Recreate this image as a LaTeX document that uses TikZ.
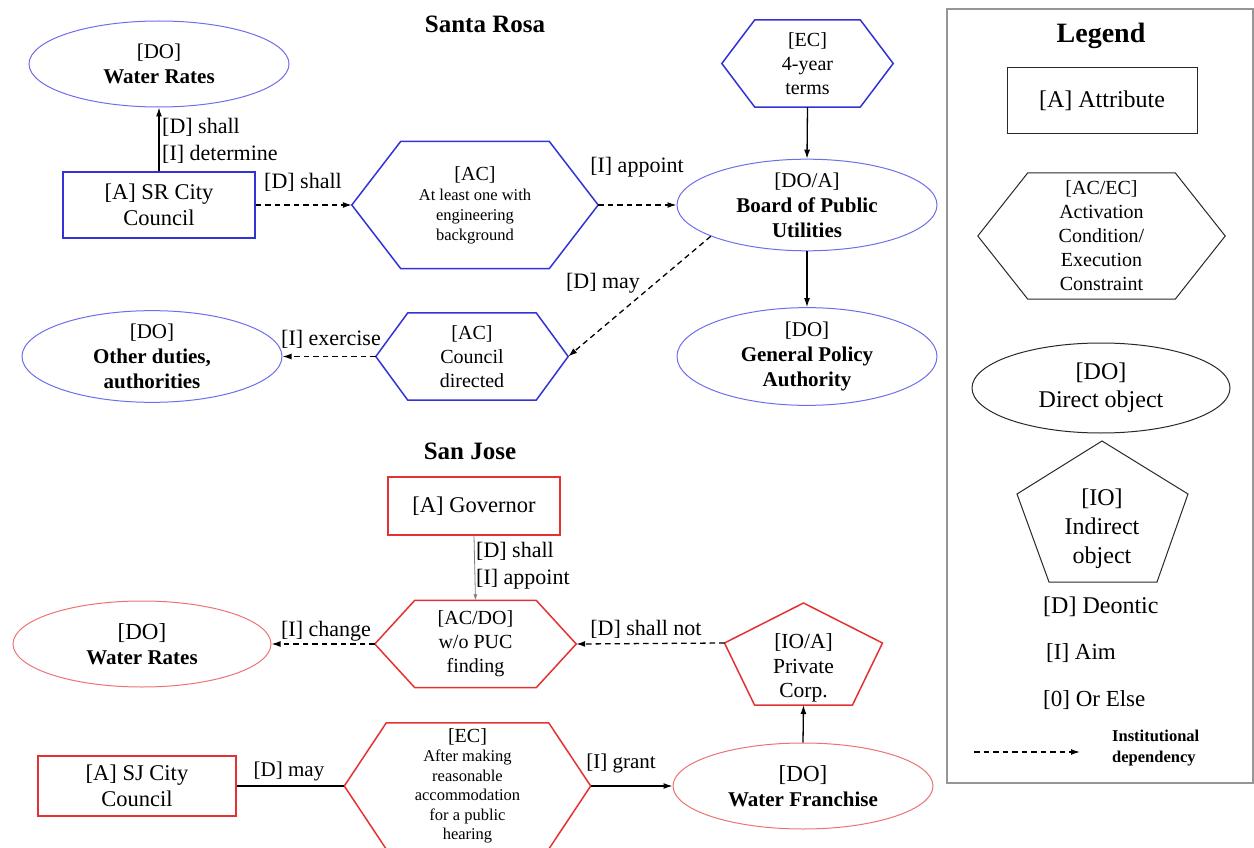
\documentclass[tikz,border=0pt]{standalone}
\usepackage{fontspec}
\setmainfont{Liberation Serif}
\usetikzlibrary{shapes.geometric,arrows.meta,calc}

\definecolor{srblue}{RGB}{50,50,215}
\definecolor{srbluelight}{RGB}{110,110,235}
\definecolor{sjred}{RGB}{228,50,50}
\definecolor{sjredlight}{RGB}{235,115,115}
\definecolor{framegray}{RGB}{150,150,150}
\definecolor{legendline}{RGB}{40,40,40}

% hexagon outline around a rectangular node: pointed left/right ends
\newcommand\hexoutline[3]{%
  \draw[#3] (#1.west) -- ([xshift=#2]#1.north west) -- ([xshift=-#2]#1.north east)
    -- (#1.east) -- ([xshift=-#2]#1.south east) -- ([xshift=#2]#1.south west) -- cycle;}

\begin{document}
\begin{tikzpicture}[x=1pt,y=-1pt,
  base/.style={inner sep=0pt, align=center, font=\fontsize{21}{25}\selectfont},
  box/.style={base, draw, rectangle, line width=1.5pt, font=\fontsize{22.5}{26.5}\selectfont},
  oval/.style={base, draw, ellipse, line width=1pt},
  hexcore/.style={base, rectangle, font=\fontsize{20}{24}\selectfont},
  small/.style={font=\fontsize{16.5}{20}\selectfont},
  lbl/.style={inner sep=0pt, font=\fontsize{22}{27}\selectfont},
  heading/.style={inner sep=0pt, font=\fontsize{25}{30}\selectfont\bfseries},
  flow/.style={line width=1.3pt, -{Latex[length=9pt,width=6pt]}},
  dep/.style={flow, dash pattern=on 5.5pt off 4pt},
  thinflow/.style={line width=0.8pt, draw=black!50, -{Latex[length=6pt,width=4pt]}},
  srline/.style={srblue, line width=1.5pt},
  sjline/.style={sjred, line width=1.5pt},
  lgline/.style={legendline, line width=1pt},
]
\useasboundingbox (0,0) rectangle (1254,848);

% ---------------- Santa Rosa ----------------
\node[heading] (srtitle) at (485,24) {Santa Rosa};

\node[oval, draw=srbluelight, minimum width=260pt, minimum height=86pt] (srrates)
  at (159,64) {[DO]\\\textbf{Water Rates}};
\node[box, draw=srblue, minimum width=192pt, minimum height=66pt] (srcouncil)
  at (159,205) {[A] SR City\\Council};

\node[hexcore, small, minimum width=246pt, minimum height=127pt] (srac)
  at (475,205) {{\fontsize{20}{24}\selectfont [AC]}\\At least one with\\engineering\\background};
\hexoutline{srac}{49pt}{srline}

\node[hexcore, minimum width=171pt, minimum height=87pt] (srec)
  at (807.5,63.5) {[EC]\\4-year\\terms};
\hexoutline{srec}{33pt}{srline}

\node[oval, draw=srbluelight, minimum width=260pt, minimum height=87pt] (srboard)
  at (807,205) {[DO/A]\\\textbf{Board of Public}\\\textbf{Utilities}};
\node[oval, draw=srbluelight, minimum width=260pt, minimum height=87pt] (srpolicy)
  at (807,356.5) {[DO]\\\textbf{General Policy}\\\textbf{Authority}};

\node[hexcore, minimum width=192pt, minimum height=87pt] (srcd)
  at (472,356.5) {[AC]\\Council\\directed};
\hexoutline{srcd}{32pt}{srline}

\node[oval, draw=srbluelight, minimum width=260pt, minimum height=87pt] (srother)
  at (152,356.5) {[DO]\\\textbf{Other duties,}\\\textbf{authorities}};

\draw[flow] (srcouncil.north) -- (srrates.south);
\draw[dep] (srcouncil.east) -- (srac.west);
\draw[dep] (srac.east) -- (srboard.west);
\draw[flow] (srec.south) -- (srboard.north);
\draw[flow] (srboard.south) -- (srpolicy.north);
\draw[dep] (srboard.198) -- (srcd.east);
\draw[dep] (srcd.west) -- (srother.east);

\node[lbl, anchor=west, align=left] (srlbldet) at (162,141) {[D] shall\\{}[I] determine};
\node[lbl] (srlblshall) at (303,182) {[D] shall};
\node[lbl] (srlblappoint) at (637,167) {[I] appoint};
\node[lbl] (srlblmay) at (603,283) {[D] may};
\node[lbl] (srlblexercise) at (331,339) {[I] exercise};

% ---------------- San Jose ----------------
\node[heading] (sjtitle) at (470,451) {San Jose};

\node[box, draw=sjred, minimum width=172pt, minimum height=58pt] (sjgov)
  at (474,506) {[A] Governor};

\node[hexcore, minimum width=201pt, minimum height=87pt] (sjacdo)
  at (475.5,644) {[AC/DO]\\w/o PUC\\finding};
\hexoutline{sjacdo}{40pt}{sjline}

\node[oval, draw=sjredlight, minimum width=258pt, minimum height=86pt] (sjrates)
  at (142,644) {{\fontsize{23}{27}\selectfont [DO]}\\\textbf{Water Rates}};

\node[base, font=\fontsize{21.5}{24.5}\selectfont] (sjcorp) at (803.5,668) {[IO/A]\\Private\\Corp.};
\draw[sjline] ([shift={(0,-65)}]sjcorp.center) -- ([shift={(79,-25)}]sjcorp.center)
  -- ([shift={(49,37)}]sjcorp.center) -- ([shift={(-49,37)}]sjcorp.center)
  -- ([shift={(-79,-25)}]sjcorp.center) -- cycle;
\coordinate (sjcorpleft) at ([shift={(-79,-25)}]sjcorp.center);
\coordinate (sjcorpbase) at ([shift={(0,37)}]sjcorp.center);

\node[oval, draw=sjredlight, minimum width=260pt, minimum height=86pt] (sjfranchise)
  at (803,786) {{\fontsize{23}{27}\selectfont [DO]}\\\textbf{Water Franchise}};

\node[box, draw=sjred, minimum width=198pt, minimum height=60pt] (sjcouncil)
  at (137,786) {[A] SJ City\\Council};

\node[hexcore, small, font=\fontsize{16.5}{19.5}\selectfont, minimum width=246pt, minimum height=126pt] (sjec)
  at (467.5,786) {{\fontsize{20}{24}\selectfont [EC]}\\After making\\reasonable\\accommodation\\for a public\\hearing};
\hexoutline{sjec}{42pt}{sjline}

\draw[thinflow] (sjgov.south) -- (sjacdo.north);
\draw[dep] (sjacdo.west) -- (sjrates.east);
\draw[dep] (sjcorpleft) -- (sjacdo.east);
\draw[flow] (sjfranchise.north) -- (sjcorpbase);
\draw[line width=1.3pt] (sjcouncil.east) -- (sjec.west);
\draw[flow] (sjec.east) -- (sjfranchise.west);

\node[lbl, anchor=west, align=left] (sjlblappoint) at (476,566) {[D] shall\\{}[I] appoint};
\node[lbl] (sjlblchange) at (326,631) {[I] change};
\node[lbl] (sjlblshallnot) at (646,629) {[D] shall not};
\node[lbl, font=\fontsize{21}{25}\selectfont] (sjlblmay) at (289,771) {[D] may};
\node[lbl, font=\fontsize{21}{25}\selectfont] (sjlblgrant) at (621,763) {[I] grant};

% ---------------- Legend ----------------
\draw[framegray, line width=1.2pt] (947,9) rectangle (1253,783);
\node[inner sep=0pt, font=\fontsize{28}{32}\selectfont\bfseries] (lgtitle) at (1101,36) {Legend};

\node[box, draw=legendline, line width=1pt, font=\fontsize{24}{28}\selectfont,
  minimum width=190pt, minimum height=66pt] (lgattr) at (1102,101) {[A] Attribute};

\node[hexcore, minimum width=247pt, minimum height=126pt] (lgcond)
  at (1101.5,236) {[AC/EC]\\Activation\\Condition/\\Execution\\Constraint};
\hexoutline{lgcond}{50pt}{lgline}

\node[oval, draw=legendline, font=\fontsize{24}{28}\selectfont,
  minimum width=258pt, minimum height=90pt] (lgdo) at (1101,388) {[DO]\\Direct object};

\node[base, font=\fontsize{24}{29}\selectfont] (lgio) at (1102,529) {[IO]\\Indirect\\object};
\draw[lgline] ([shift={(0,-88)}]lgio.center) -- ([shift={(86,-35)}]lgio.center)
  -- ([shift={(55,53)}]lgio.center) -- ([shift={(-53,53)}]lgio.center)
  -- ([shift={(-85,-35)}]lgio.center) -- cycle;

\node[inner sep=0pt, anchor=west, font=\fontsize{24}{28}\selectfont] (lgdeontic) at (1043,607) {[D] Deontic};
\node[inner sep=0pt, anchor=west, font=\fontsize{23}{28}\selectfont] (lgaim) at (1046,653) {[I] Aim};
\node[inner sep=0pt, anchor=west, font=\fontsize{23}{28}\selectfont] (lgorelse) at (1043,700) {[0] Or Else};

\coordinate (lgdepstart) at (974,752);
\coordinate (lgdepend) at (1080,752);
\draw[dep] (lgdepstart) -- (lgdepend);
\node[inner sep=0pt, anchor=west, align=left, font=\fontsize{16.5}{21}\selectfont\bfseries]
  (lgdeptext) at (1112,748) {Institutional\\dependency};

\end{tikzpicture}
\end{document}
